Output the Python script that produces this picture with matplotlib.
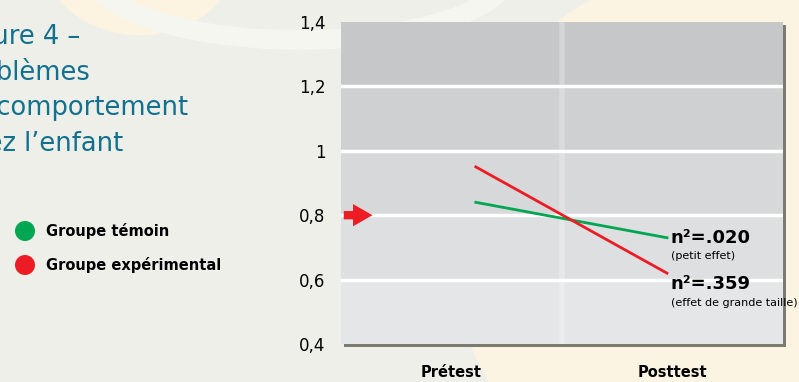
import matplotlib.pyplot as plt
from matplotlib.patches import Ellipse, Rectangle, Circle

# mean scores, problèmes de comportement
periods = ['Prétest', 'Posttest']
temoin = [0.84, 0.73]
experimental = [0.95, 0.62]
line_x = [0.61, 1.475]
effects = ['n²=.020', 'n²=.359']
effect_notes = ['(petit effet)', '(effet de grande taille)']
yticks = [0.4, 0.6, 0.8, 1.0, 1.2, 1.4]
ytick_labels = ['0,4', '0,6', '0,8', '1', '1,2', '1,4']

GREEN = '#00a651'
RED = '#ed1c24'
TEAL = '#11718f'
W, H = 799, 382

plt.rcParams['font.family'] = ['DejaVu Sans']

fig = plt.figure(figsize=(W / 100, H / 100), dpi=100)
fig.patch.set_facecolor('#efefea')

# soft cream swirls in the page background
bg = fig.add_axes([0, 0, 1, 1], zorder=-5)
bg.set_xlim(0, W)
bg.set_ylim(H, 0)
bg.axis('off')
bg.add_patch(Ellipse((710, 240), 520, 540, color='#fcf4e3', lw=0))
bg.add_patch(Ellipse((140, -40), 190, 150, color='#fcf4e1', lw=0))
bg.add_patch(Ellipse((300, -30), 420, 140, fill=False, ec='#f6f6f1', lw=14))

# drop shadow under the plot box
bg.add_patch(Rectangle((344, 25), 442, 322, color='#7b7b72', lw=0))

left, right, top, bottom = 341, 783, 22, 344
ax = fig.add_axes([left / W, 1 - bottom / H, (right - left) / W, (bottom - top) / H])
ax.set_xlim(0, 2)
ax.set_ylim(0.4, 1.4)

bands = ['#e5e6e8', '#dedfe1', '#d7d8da', '#cfd0d2', '#c6c7c9']
for lo, c in zip(yticks[:-1], bands):
    ax.axhspan(lo, lo + 0.2, color=c, lw=0, zorder=0)
ax.axvline(1.0, color='white', alpha=0.25, lw=4, zorder=1)
for y in yticks[1:-1]:
    ax.axhline(y, color='white', lw=2.5, zorder=2)

ax.plot(line_x, temoin, color=GREEN, lw=2, zorder=4)
ax.plot(line_x, experimental, color=RED, lw=2, zorder=4)

ax.annotate('', xy=(0.155, 0.8), xytext=(0.0, 0.8),
            arrowprops=dict(arrowstyle='simple,head_width=1.6,head_length=1.4,tail_width=0.6',
                            color=RED, lw=0), zorder=5)

# effect sizes next to the posttest ends
label_y = [temoin[1], experimental[1] - 0.035]
for y, lab, note in zip(label_y, effects, effect_notes):
    ax.text(1.49, y, lab, fontsize=13, fontweight='bold', va='center',
            ha='left', zorder=6, clip_on=False)
    ax.text(1.495, y - 0.058, note, fontsize=8, va='center', ha='left',
            zorder=6, clip_on=False)

ax.set_yticks(yticks)
ax.set_yticklabels(ytick_labels, fontsize=12)
ax.set_xticks([0.5, 1.5])
ax.set_xticklabels(periods, fontsize=10.5, fontweight='bold')
ax.tick_params(axis='y', length=0, pad=11)
ax.tick_params(axis='x', length=0, pad=15)
for s in ax.spines.values():
    s.set_visible(False)

# title block, runs off the left edge of the page
title = ['Figure 4 –', 'Problèmes', 'de comportement', "chez l’enfant"]
for i, line in enumerate(title):
    fig.text(-44 / W, 1 - (44 + 35.5 * i) / H, line, fontsize=18.5, color=TEAL,
             ha='left', va='baseline')

# legend
for i, (lab, c) in enumerate(zip(['Groupe témoin', 'Groupe expérimental'], [GREEN, RED])):
    y = 231 + 34 * i
    bg.add_patch(Circle((25, y), 10, color=c, lw=0))
    bg.text(46, y, lab, fontsize=10.5, fontweight='bold', va='center', ha='left')

fig.savefig('out.png', dpi=100, facecolor=fig.get_facecolor())
